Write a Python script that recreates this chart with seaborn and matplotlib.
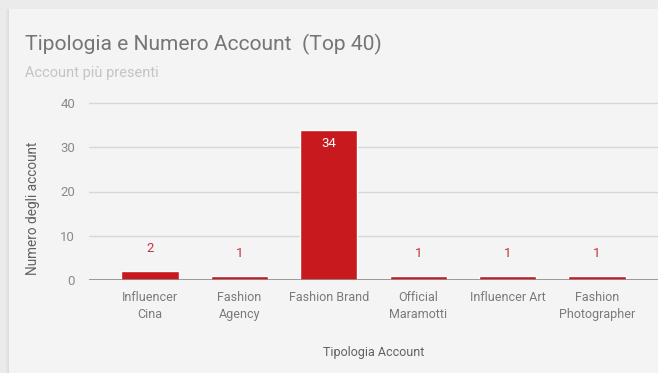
import matplotlib
matplotlib.use("Agg")
import matplotlib.pyplot as plt
from matplotlib.patches import Rectangle
import seaborn as sns
import pandas as pd

categories = ["Influencer\nCina", "Fashion\nAgency", "Fashion Brand",
              "Official\nMaramotti", "Influencer Art", "Fashion\nPhotographer"]
counts = [2, 1, 34, 1, 1, 1]
y_ticks = [0, 10, 20, 30, 40]

title = "Tipologia e Numero Account  (Top 40)"
subtitle = "Account più presenti"
x_title = "Tipologia Account"
y_title = "Numero degli account"

df = pd.DataFrame({"tipologia": categories, "numero": counts})

sns.set_theme(style="white")
plt.rcParams["font.family"] = ["Roboto", "DejaVu Sans"]

W, H = 658, 373
fig = plt.figure(figsize=(W / 100, H / 100), dpi=100, facecolor="#ebebeb")

# card background with a soft left shadow
for i, c in enumerate(["#e6e6e6", "#e2e2e2", "#dedede"]):
    fig.patches.append(Rectangle(((6 + i) / W, 0), 1 / W, (H - 9) / H,
                                 transform=fig.transFigure, facecolor=c,
                                 edgecolor="none", zorder=-2))
fig.patches.append(Rectangle((9 / W, 0), 1, (H - 9) / H, transform=fig.transFigure,
                             facecolor="#f4f4f4", edgecolor="none", zorder=-1))

# plot area in pixels
left_px, right_px = 89, 658
top_px, bottom_px = 100, 280
ax = fig.add_axes([left_px / W, 1 - bottom_px / H,
                   (right_px - left_px) / W, (bottom_px - top_px) / H])
ax.set_zorder(2)
ax.set_facecolor("none")

sns.barplot(data=df, x="tipologia", y="numero", color="#c8191e",
            saturation=1, width=0.64, ax=ax, zorder=3)

step = 89.4
ax.set_xlim((left_px - 150) / step, (right_px - 150) / step)
ax.set_ylim(0, 40 * (bottom_px - top_px) / (bottom_px - 103))

ax.set_yticks(y_ticks)
ax.set_yticklabels([str(t) for t in y_ticks])
for t in y_ticks[1:]:
    ax.axhline(t, color="#d6d6d6", lw=1.0, zorder=1)
ax.axhline(0, color="#8a8a8a", lw=1.2, zorder=4)

for s in ax.spines.values():
    s.set_visible(False)
ax.tick_params(axis="y", length=0, pad=10, labelsize=9.5, labelcolor="#8a8a8a")
ax.tick_params(axis="x", length=0, pad=8, labelsize=9, labelcolor="#7a7a7a")
for lab in ax.get_xticklabels():
    lab.set_linespacing(1.35)

ax.set_xlabel(x_title, fontsize=9, color="#616161", labelpad=18)
ax.set_ylabel(y_title, fontsize=9.8, color="#616161")
ax.yaxis.set_label_coords((40 - left_px) / (right_px - left_px),
                          (bottom_px - 208) / (bottom_px - top_px))

for i, v in enumerate(counts):
    if v >= 10:
        ax.annotate(str(v), (i, v), xytext=(0, -10), textcoords="offset points",
                    ha="center", va="center", fontsize=9.5, color="white", zorder=5)
    else:
        ax.annotate(str(v), (i, v), xytext=(0, 16), textcoords="offset points",
                    ha="center", va="center", fontsize=9.5, color="#c4333f", zorder=5)

fig.text(25 / W, 1 - 44 / H, title, fontsize=15.1, color="#757575", va="center", ha="left")
fig.text(25 / W, 1 - 73 / H, subtitle, fontsize=10.5, color="#c4c4c4", va="center", ha="left")

fig.savefig("out.png", dpi=100, facecolor=fig.get_facecolor())
